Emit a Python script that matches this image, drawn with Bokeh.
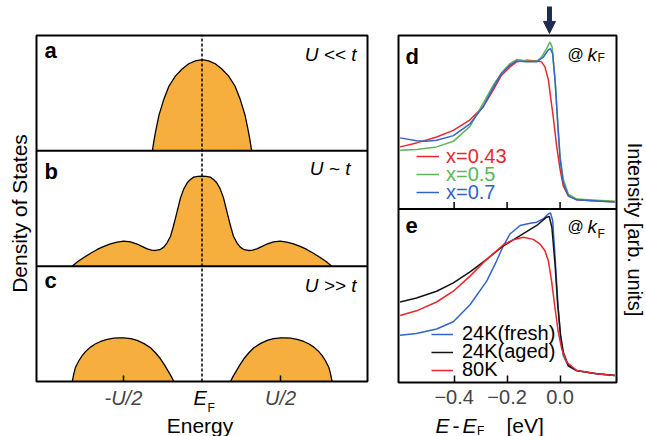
import numpy as np
from bokeh.plotting import figure
from bokeh.layouts import row
from bokeh.models import (Label, Range1d, FixedTicker, Arrow, NormalHead, Legend, LegendItem)
from bokeh.embed import file_html
from bokeh.resources import INLINE

FONT = "Liberation Sans"
ORANGE = "#F6AE3E"
NAVY = "#1F2A4F"
RED = "#E8282C"
GREEN = "#5DB65A"
BLUE = "#3464C8"
BLACK = "#141414"

# ---------------- schematic density of states (energy, DOS) ----------------
U_HALF = 0.475
dos_ticks = [-U_HALF, U_HALF]
dos_tick_labels = ["-U/2", "U/2"]

# a: U << t, a single band centred on E_F
dos_a_energy = [-0.30, -0.29, -0.28, -0.26, -0.23, -0.20, -0.16, -0.12, -0.08, -0.04, 0.00,
                0.04, 0.08, 0.12, 0.16, 0.20, 0.23, 0.26, 0.28, 0.29, 0.30]
dos_a_value = [0.00, 0.09, 0.17, 0.31, 0.45, 0.56, 0.65, 0.71, 0.755, 0.78, 0.79,
               0.78, 0.755, 0.71, 0.65, 0.56, 0.45, 0.31, 0.17, 0.09, 0.00]

# b: U ~ t, quasiparticle peak plus incoherent Hubbard bands
dos_b_energy = [-0.785, -0.750, -0.714, -0.673, -0.633, -0.593, -0.553, -0.513, -0.473, -0.432,
                -0.392, -0.360, -0.331, -0.305, -0.281, -0.255, -0.231, -0.210, -0.190, -0.175,
                -0.160, -0.145, -0.130, -0.110, -0.089, -0.070, -0.050, -0.025, 0.000,
                0.025, 0.050, 0.070, 0.089, 0.110, 0.130, 0.145, 0.160, 0.175, 0.190,
                0.210, 0.231, 0.255, 0.281, 0.305, 0.331, 0.360, 0.392, 0.432, 0.473,
                0.513, 0.553, 0.593, 0.633, 0.673, 0.714, 0.750, 0.785]
dos_b_value = [0.000, 0.040, 0.075, 0.112, 0.145, 0.172, 0.194, 0.209, 0.217, 0.211,
               0.192, 0.170, 0.150, 0.139, 0.136, 0.143, 0.165, 0.205, 0.260, 0.335,
               0.419, 0.505, 0.592, 0.670, 0.723, 0.752, 0.772, 0.779, 0.780,
               0.779, 0.772, 0.752, 0.723, 0.670, 0.592, 0.505, 0.419, 0.335, 0.260,
               0.205, 0.165, 0.143, 0.136, 0.139, 0.150, 0.170, 0.192, 0.211, 0.217,
               0.209, 0.194, 0.172, 0.145, 0.112, 0.075, 0.040, 0.000]

# c: U >> t, lower and upper Hubbard bands
dos_c_lower_energy = [-0.784, -0.774, -0.764, -0.744, -0.724, -0.700, -0.674, -0.645, -0.613,
                      -0.573, -0.533, -0.500, -0.473, -0.430, -0.392, -0.350, -0.311, -0.280,
                      -0.251, -0.225, -0.201, -0.185, -0.170]
dos_c_lower_value = [0.000, 0.070, 0.124, 0.180, 0.225, 0.265, 0.298, 0.325, 0.347,
                     0.365, 0.376, 0.379, 0.379, 0.371, 0.356, 0.328, 0.292, 0.247,
                     0.197, 0.140, 0.081, 0.042, 0.000]
dos_c_upper_energy = [0.172, 0.187, 0.203, 0.227, 0.253, 0.282, 0.313, 0.352, 0.394, 0.432,
                      0.475, 0.502, 0.535, 0.575, 0.615, 0.647, 0.676, 0.702, 0.726, 0.746,
                      0.766, 0.776, 0.786]
dos_c_upper_value = [0.000, 0.042, 0.081, 0.140, 0.197, 0.247, 0.292, 0.328, 0.356, 0.371,
                     0.379, 0.379, 0.376, 0.365, 0.347, 0.325, 0.298, 0.265, 0.225,
                     0.180, 0.124, 0.070, 0.000]

# ---------------- EDCs at k_F (energy in eV, intensity in arb. units) ----------------
e_ticks = [-0.4, -0.2, 0.0]

# d: doping dependence
d_x043_energy = [-0.604, -0.542, -0.466, -0.403, -0.340, -0.290, -0.252, -0.221, -0.189, -0.164,
                 -0.126, -0.088, -0.070, -0.057, -0.044, -0.036, -0.026, -0.013, 0.000, 0.012,
                 0.031, 0.063, 0.138, 0.207]
d_x043_int = [0.358, 0.381, 0.415, 0.453, 0.514, 0.590, 0.686, 0.771, 0.819, 0.848,
              0.857, 0.853, 0.848, 0.819, 0.743, 0.648, 0.533, 0.362, 0.229, 0.133,
              0.076, 0.053, 0.046, 0.042]
d_x05_energy = [-0.604, -0.542, -0.466, -0.403, -0.340, -0.290, -0.252, -0.221, -0.189, -0.164,
                -0.126, -0.088, -0.070, -0.051, -0.038, -0.030, -0.019, -0.009, 0.000, 0.012,
                0.031, 0.063, 0.138, 0.207]
d_x05_int = [0.339, 0.343, 0.358, 0.390, 0.476, 0.610, 0.714, 0.785, 0.838, 0.861,
             0.853, 0.851, 0.876, 0.924, 0.962, 0.933, 0.743, 0.495, 0.305, 0.171,
             0.086, 0.057, 0.050, 0.044]
d_x07_energy = [-0.604, -0.542, -0.504, -0.466, -0.403, -0.340, -0.290, -0.252, -0.221, -0.189,
                -0.164, -0.126, -0.088, -0.063, -0.044, -0.036, -0.028, -0.018, -0.008, 0.000,
                0.012, 0.031, 0.063, 0.138, 0.207]
d_x07_int = [0.410, 0.394, 0.390, 0.396, 0.423, 0.491, 0.590, 0.701, 0.781, 0.829,
             0.853, 0.848, 0.848, 0.876, 0.918, 0.924, 0.895, 0.724, 0.476, 0.286,
             0.152, 0.076, 0.053, 0.046, 0.040]

# e: temperature / surface ageing
e_fresh_energy = [-0.604, -0.542, -0.466, -0.403, -0.340, -0.277, -0.240, -0.214, -0.189, -0.151,
                  -0.113, -0.088, -0.063, -0.044, -0.036, -0.028, -0.018, -0.008, 0.002, 0.012,
                  0.031, 0.063, 0.138, 0.207]
e_fresh_int = [0.273, 0.282, 0.308, 0.350, 0.448, 0.584, 0.700, 0.788, 0.856, 0.905,
               0.918, 0.924, 0.944, 0.973, 0.977, 0.934, 0.700, 0.448, 0.253, 0.156,
               0.094, 0.067, 0.050, 0.040]
e_aged_energy = [-0.604, -0.542, -0.466, -0.403, -0.340, -0.277, -0.214, -0.151, -0.088, -0.051,
                 -0.041, -0.031, -0.019, -0.009, 0.002, 0.012, 0.031, 0.063, 0.138, 0.207]
e_aged_int = [0.464, 0.487, 0.526, 0.574, 0.638, 0.710, 0.788, 0.846, 0.905, 0.953,
              0.957, 0.895, 0.681, 0.448, 0.273, 0.176, 0.098, 0.069, 0.050, 0.040]
e_80k_energy = [-0.604, -0.542, -0.466, -0.403, -0.340, -0.277, -0.214, -0.176, -0.139, -0.101,
                -0.076, -0.057, -0.044, -0.032, -0.019, -0.007, 0.006, 0.025, 0.063, 0.138,
                0.207]
e_80k_int = [0.386, 0.413, 0.464, 0.526, 0.613, 0.710, 0.794, 0.823, 0.837, 0.825,
             0.798, 0.759, 0.700, 0.584, 0.428, 0.292, 0.195, 0.117, 0.069, 0.050,
             0.040]


def text(p, s, x, y, dx=0, dy=0, size="20px", style="normal", align="left",
         color="black", angle=0.0):
    p.add_layout(Label(x=x, y=y, x_offset=dx, y_offset=dy, text=s, text_font=FONT,
                       text_font_size=size, text_font_style=style, text_align=align,
                       text_baseline="middle", text_color=color, angle=angle))


def canvas_figure(width, height, box_px, box_data):
    """Figure whose plotting frame fills the canvas; the panel box sits at box_px
    (left, right, top, bottom in canvas pixels) and spans box_data (x0, x1, y0, y1)."""
    l, r, t, b = box_px
    x0, x1, y0, y1 = box_data
    sx = (r - l) / (x1 - x0)
    sy = (b - t) / (y1 - y0)
    p = figure(width=width, height=height, output_backend="svg", toolbar_location=None,
               x_range=Range1d(x0 - l / sx, x1 + (width - r) / sx),
               y_range=Range1d(y0 - (height - b) / sy, y1 + t / sy),
               y_axis_location=None, min_border=0)
    p.grid.visible = False
    p.outline_line_color = None
    p.background_fill_color = "white"
    p.border_fill_color = "white"
    return p


def style_axis(ax, ticks, standoff, tick_in):
    ax.fixed_location = 0
    ax.ticker = FixedTicker(ticks=ticks)
    ax.axis_line_color = None
    ax.major_label_text_font = FONT
    ax.major_label_text_font_size = "20px"
    ax.major_label_standoff = standoff
    ax.major_tick_in = tick_in
    ax.major_tick_out = 0
    ax.major_tick_line_width = 1.5
    ax.minor_tick_line_color = None


# ================= left column: three stacked DOS panels =================
left = canvas_figure(380, 436, (36, 367, 35, 381), (-1, 1, 0, 3))

panels = [(2, dos_a_energy, dos_a_value),
          (1, dos_b_energy, dos_b_value),
          (0, dos_c_lower_energy, dos_c_lower_value),
          (0, dos_c_upper_energy, dos_c_upper_value)]
for offset, en, val in panels:
    top = offset + np.asarray(val, dtype=float)
    left.varea(x=en, y1=np.full(len(en), float(offset)), y2=top, fill_color=ORANGE)
    left.line(x=en, y=top, line_color="black", line_width=1.3)

# dashed E_F line, panel separators and the outer box
left.segment(x0=[0], y0=[0], x1=[0], y1=[3], line_color="black", line_width=1.5,
             line_dash="3 2")
left.segment(x0=[-1, -1], y0=[1, 2], x1=[1, 1], y1=[1, 2], line_color="black", line_width=2)
left.quad(left=-1, right=1, bottom=0, top=3, fill_color=None, line_color="black",
          line_width=2)

xa = left.xaxis[0]
style_axis(xa, dos_ticks, 5, 6)
xa.major_label_overrides = {t: s for t, s in zip(dos_ticks, dos_tick_labels)}
xa.major_label_text_font_style = "italic"

text(left, "E", 0, 0, dx=-8.5, dy=-16.5, style="italic")
text(left, "F", 0, 0, dx=5.5, dy=-26, size="12px")
text(left, "Energy", 0, 0, dx=-2, dy=-44, size="21px", align="center")
text(left, "Density of States", -1, 1.5, dx=-17, dy=-5, size="21px", align="center",
     angle=np.pi / 2)

for s, y, dy in [("a", 3, -14.5), ("b", 2, -21), ("c", 1, -14.5)]:
    text(left, s, -1, y, dx=8, dy=dy, size="22px", style="bold")
for s, y, dx, dy in [("U << t", 3, -11, -18.5), ("U ~ t", 2, -17, -18), ("U >> t", 1, -11, -19.5)]:
    text(left, s, 1, y, dx=dx, dy=dy, size="19px", style="italic", align="right")

# ================= right column: EDCs d (top) and e (bottom) =================
E0, E1 = -0.61, 0.213
right = canvas_figure(266, 436, (18, 236, 35, 382), (E0, E1, 0, 2))

d_curves = [("x=0.43", d_x043_energy, d_x043_int, RED),
            ("x=0.5", d_x05_energy, d_x05_int, GREEN),
            ("x=0.7", d_x07_energy, d_x07_int, BLUE)]
e_curves = [("24K(fresh)", e_fresh_energy, e_fresh_int, BLUE),
            ("24K(aged)", e_aged_energy, e_aged_int, BLACK),
            ("80K", e_80k_energy, e_80k_int, RED)]

d_rend = [right.line(x=en, y=1 + np.asarray(v, dtype=float), line_color=c, line_width=1.5)
          for _, en, v, c in d_curves]
e_rend = [right.line(x=en, y=np.asarray(v, dtype=float), line_color=c, line_width=1.5)
          for _, en, v, c in e_curves]

right.segment(x0=[E0], y0=[1], x1=[E1], y1=[1], line_color="black", line_width=2)
# inward ticks along the bottom edge of panel d
right.segment(x0=e_ticks, y0=[1] * len(e_ticks), x1=e_ticks, y1=[1.04] * len(e_ticks),
              line_color="black", line_width=1.5)
right.quad(left=E0, right=E1, bottom=0, top=2, fill_color=None, line_color="black",
           line_width=2)

xb = right.xaxis[0]
style_axis(xb, e_ticks, 7, 7)
xb.major_label_overrides = {0: "0.0"}


def key(p, label, rend, x, y, color, glyph_w, standoff):
    p.add_layout(Legend(items=[LegendItem(label=label, renderers=[rend])], location=(x, y),
                        background_fill_alpha=0, border_line_alpha=0, padding=0, margin=0,
                        spacing=0, glyph_width=glyph_w, glyph_height=16, label_height=16,
                        label_standoff=standoff, label_text_font=FONT,
                        label_text_font_size="20px", label_text_color=color))


for (lab, _, _, c), r, y in zip(d_curves, d_rend, [268.5, 250.5, 232.5]):
    key(right, lab, r, 36, y, c, 23, 7)
for (lab, _, _, c), r, y in zip(e_curves, e_rend, [91, 73, 55]):
    key(right, lab, r, 51, y, "black", 22, 9)

# axis title E-E_F [eV]
text(right, "E", E0, 0, dx=37, dy=-43, size="21px", style="italic")
text(right, "-", E0, 0, dx=54, dy=-43, size="21px")
text(right, "E", E0, 0, dx=64, dy=-43, size="21px", style="italic")
text(right, "F", E0, 0, dx=78.5, dy=-48, size="12px")
text(right, "[eV]", E0, 0, dx=108, dy=-43, size="21px")

text(right, "Intensity [arb. units]", E1, 1, dx=18, dy=-20.5, size="20px",
     align="center", angle=-np.pi / 2)

for s, y, dy in [("d", 2, -20.5), ("e", 1, -16)]:
    text(right, s, E0, y, dx=7, dy=dy, size="22px", style="bold")
for y, dy_at, dy_sub in [(2, -19, -22.5), (1, -17.5, -25)]:
    text(right, "@", E1, y, dx=-49, dy=dy_at, size="16px")
    text(right, "k", E1, y, dx=-29, dy=dy_at, size="19px", style="italic")
    text(right, "F", E1, y, dx=-19, dy=dy_sub, size="12px")

# arrow marking the quasiparticle peak
right.add_layout(Arrow(x_start=-0.04, y_start=2.167, x_end=-0.04, y_end=2.012,
                       line_color=NAVY, line_width=5,
                       end=NormalHead(size=12, fill_color=NAVY, line_color=NAVY)))

layout = row(left, right, spacing=0)
open("out.html", "w").write(file_html(layout, INLINE))
